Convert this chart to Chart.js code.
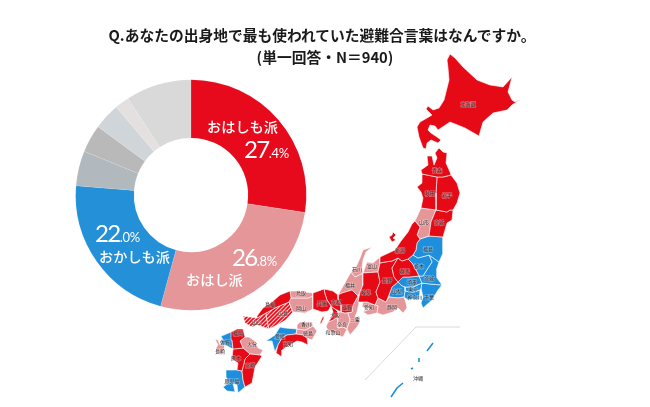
<!DOCTYPE html>
<html lang="ja">
<head>
<meta charset="utf-8">
<title>避難合言葉</title>
<script src="https://cdn.jsdelivr.net/npm/chart.js@4"></script>
<style>
  html, body { margin: 0; padding: 0; background: #fff; }
  #wrap { position: relative; width: 650px; height: 407px; overflow: hidden; }
  canvas { position: absolute; left: 0; top: 0; }
  .title { position: absolute; left: 0; width: 650px; text-align: center; color: #1a1a1a;
    font: 700 14.75px/20px "Noto Sans CJK JP", sans-serif; white-space: nowrap; }
</style>
</head>
<body>
<div id="wrap">
  <canvas id="mapChart" width="650" height="407"></canvas>
  <canvas id="pieChart" width="650" height="407"></canvas>
  <div class="title" style="top:25px;left:-3px">Q.あなたの出身地で最も使われていた避難合言葉はなんですか。</div>
  <div class="title" style="top:47px">(単一回答・N＝940)</div>
</div>
<script>
// doughnut
const sliceNames = ['おはしも派', 'おはし派', 'おかしも派', 'その他A', 'その他B', 'その他C', 'その他D', 'その他E'];
const sliceValues = [27.4, 26.8, 22.0, 4.9, 3.9, 3.7, 2.0, 9.2];
const sliceColors = ['#E60A1C', '#E59699', '#2390D8', '#B1B9BF', '#B9B9B9', '#CFD5D9', '#E4E0E0', '#D9D9D9'];

// map outlines, in picture pixels
const hokkaido = [[450,54],[447,60],[448,68],[449,80],[446,92],[444,100],[439,108],[433,110],[428,106],[426,109],[432,115],[427,118],[420,122],[417,127],[419,137],[423,148],[426,149],[427,143],[431,140],[438,143],[441,140],[437,137],[431,133],[428,130],[430,125],[435,126],[438,130],[450,122],[465,128],[479,136],[483,122],[493,113],[507,110],[512,105],[521,99],[515,102],[512,100],[508,92],[512,77],[503,87],[490,85],[477,80],[463,67],[455,58],[450,54]];
const aomori = [[427,156],[432,156],[434,165],[437,158],[435,153],[439,148],[443,152],[447,153],[446,163],[450,172],[451,175],[443,177],[437,177],[422,174],[421,170],[428,165],[427,156]];
const akita = [[422,174],[437,177],[436,193],[436,210],[421,208],[423,198],[421,192],[417,187],[422,183],[422,174]];
const iwate = [[437,177],[443,177],[451,175],[457,183],[460,193],[457,203],[453,210],[450,210],[447,212],[436,210],[436,193],[437,177]];
const yamagata = [[421,208],[436,210],[431,222],[429,236],[420,239],[417,235],[420,227],[415,221],[421,208]];
const miyagi = [[436,210],[447,212],[450,210],[453,210],[452,220],[447,223],[443,237],[429,236],[431,222],[436,210]];
const fukushima = [[420,239],[429,236],[443,237],[443,253],[439,262],[429,255],[418,258],[413,255],[416,250],[417,243],[420,239]];
const niigata = [[380,257],[395,250],[401,241],[408,232],[412,224],[415,221],[420,227],[417,235],[420,239],[417,243],[416,250],[413,255],[408,259],[402,261],[398,258],[392,261],[385,262],[380,263],[380,257]];
const sado = [[393,232],[396,235],[393,238],[396,240],[392,242],[389,237],[392,235],[393,232]];
const tochigi = [[413,255],[418,258],[429,255],[432,262],[428,268],[423,276],[419,276],[417,272],[412,263],[408,259],[413,255]];
const ibaraki = [[429,255],[439,262],[437,268],[437,278],[442,285],[430,284],[422,283],[419,276],[423,276],[428,268],[432,262],[429,255]];
const gunma = [[392,268],[398,258],[402,261],[408,259],[412,263],[417,272],[419,276],[409,277],[403,277],[398,282],[394,277],[392,268]];
const nagano = [[380,263],[385,262],[392,261],[398,258],[392,268],[394,277],[398,282],[392,287],[389,295],[386,302],[378,298],[376,292],[380,282],[378,272],[380,263]];
const gifu = [[363,273],[378,272],[380,282],[376,292],[378,298],[375,305],[367,302],[358,302],[360,292],[363,285],[363,273]];
const toyama = [[367,262],[373,263],[380,257],[380,263],[378,272],[363,273],[367,262]];
const ishikawa = [[372,247],[363,250],[360,258],[356,267],[351,272],[355,277],[363,273],[362,268],[363,260],[366,252],[372,247]];
const fukui = [[351,272],[355,277],[363,273],[363,285],[360,292],[358,296],[352,290],[342,293],[338,295],[342,288],[351,272]];
const hyogo = [[313,293],[324,289],[325,294],[327,300],[331,306],[328,311],[322,312],[313,309],[313,296],[313,293]];
const kyoto = [[324,289],[333,291],[338,295],[338,299],[341,305],[341,312],[335,309],[331,306],[327,300],[325,294],[324,289]];
const osaka = [[331,306],[335,309],[338,312],[338,317],[333,320],[328,322],[332,317],[333,312],[331,306]];
const shiga = [[338,295],[342,293],[352,290],[358,296],[353,305],[352,312],[345,313],[341,312],[341,305],[338,299],[338,295]];
const biwa = [[352,296],[347,298],[343,306],[347,304],[350,300],[352,296]];
const mie = [[358,296],[359,303],[357,312],[355,317],[360,322],[357,327],[350,335],[347,329],[350,320],[348,313],[352,312],[353,305],[358,296]];
const aichi = [[363,302],[367,302],[375,305],[378,306],[377,313],[368,315],[363,312],[369,309],[362,307],[363,302]];
const shizuoka = [[378,306],[375,305],[378,298],[386,302],[389,297],[398,298],[404,297],[406,303],[407,308],[403,313],[398,308],[393,312],[383,315],[377,313],[378,306]];
const yamanashi = [[392,287],[398,282],[402,286],[405,287],[405,291],[404,297],[398,298],[389,297],[389,295],[392,287]];
const saitama = [[398,282],[403,277],[409,277],[419,276],[422,283],[413,287],[405,287],[402,286],[398,282]];
const tokyo = [[405,287],[413,287],[422,283],[421,288],[420,290],[413,292],[405,291],[405,287]];
const kanagawa = [[405,291],[413,292],[420,290],[419,300],[413,299],[408,300],[404,297],[405,291]];
const chiba = [[422,283],[430,284],[442,285],[438,290],[432,300],[423,308],[421,303],[423,297],[421,288],[422,283]];
const nara = [[338,312],[341,312],[345,313],[348,313],[350,320],[347,329],[343,327],[338,328],[338,317],[338,312]];
const wakayama = [[328,322],[333,320],[338,317],[338,328],[343,327],[347,329],[343,337],[337,335],[328,330],[326,327],[328,322]];
const awaji = [[320,323],[323,316],[324,318],[321,324],[320,323]];
const tottori = [[290,291],[297,291],[313,293],[313,296],[308,298],[295,298],[291,298],[290,291]];
const okayama = [[291,298],[295,298],[308,298],[313,296],[313,309],[305,313],[293,312],[289,302],[291,298]];
const shimane = [[290,291],[291,298],[289,302],[277,307],[266,313],[257,318],[257,316],[263,308],[272,302],[280,295],[290,291]];
const hiroshima = [[277,307],[289,302],[293,312],[286,320],[277,325],[269,329],[267,320],[266,313],[277,307]];
const yamaguchi = [[243,316],[257,318],[266,313],[267,320],[269,329],[263,327],[257,325],[252,327],[245,323],[243,316]];
const kagawa = [[297,325],[300,322],[312,322],[313,326],[305,330],[297,329],[297,325]];
const tokushima = [[297,329],[305,330],[313,326],[317,331],[312,340],[307,338],[303,335],[296,334],[297,329]];
const ehime = [[280,327],[285,328],[297,329],[296,334],[287,335],[282,338],[278,345],[275,352],[273,345],[272,341],[266,341],[275,335],[278,330],[280,327]];
const kochi = [[296,334],[303,335],[307,338],[308,345],[302,342],[297,341],[288,346],[282,350],[282,357],[276,353],[278,345],[282,338],[287,335],[296,334]];
const fukuoka = [[231,332],[237,329],[243,329],[245,337],[240,341],[243,348],[233,349],[232,340],[231,332]];
const saga = [[221,336],[224,335],[231,332],[232,340],[233,349],[225,345],[220,345],[223,340],[221,336]];
const nagasaki = [[215,339],[218,340],[220,345],[225,345],[222,355],[217,353],[216,348],[218,345],[215,339]];
const oita = [[240,341],[245,337],[249,337],[255,341],[258,348],[263,350],[260,355],[250,354],[243,348],[240,341]];
const kumamoto = [[233,349],[243,348],[250,354],[245,359],[242,371],[237,370],[238,363],[232,359],[233,349]];
const miyazaki = [[250,354],[260,355],[262,356],[255,367],[252,383],[245,387],[243,380],[242,371],[245,359],[250,354]];
const kagoshima = [[226,370],[237,370],[242,371],[243,380],[245,387],[238,393],[237,385],[233,383],[235,392],[227,391],[223,387],[229,383],[226,377],[226,370]];
const okinawa1 = [[433,343],[427,351]];
const okinawa2 = [[419,358],[419,362]];
const okinawa3 = [[413,368],[411,369]];
const okinawa4 = [[403,383],[397,388],[391,397]];
const okinawaFrame = [[365,380],[416,327],[460,327]];

const redAreas = [hokkaido, aomori, akita, iwate, miyagi, niigata, sado, gunma, nagano, gifu, hyogo, kyoto, osaka, shiga, awaji, shimane, kochi, fukuoka, kumamoto, miyazaki];
const pinkAreas = [yamagata, toyama, ishikawa, fukui, mie, aichi, shizuoka, nara, wakayama, tottori, okayama, kagawa, tokushima, oita, nagasaki];
const blueAreas = [fukushima, tochigi, ibaraki, yamanashi, saitama, tokyo, kanagawa, chiba, ehime, saga, kagoshima];
const hatchedAreas = [hiroshima, yamaguchi];
const okinawaIslands = [okinawa1, okinawa2, okinawa3, okinawa4];

const prefNames = ['北海道','青森','秋田','岩手','山形','宮城','福島','新潟','栃木','群馬','茨城','長野','山梨','埼玉','東京','神奈川','千葉','静岡','富山','石川','福井','岐阜','愛知','滋賀','三重','京都','大阪','兵庫','奈良','和歌山','鳥取','岡山','島根','広島','山口','香川','徳島','愛媛','高知','福岡','佐賀','長崎','大分','熊本','宮崎','鹿児島','沖縄'];
const prefX = [468,437,430,447,424,439,428,400,419,405,429,387,397,412,413,415,429,392,372,357,350,366,369,347,355,336,335,322,342,333,301,301,270,283,257,306,308,280,288,238,225,220,252,236,250,232,418];
const prefY = [104,170,193,195,222,222,249,250,266,271,278,280,291,282,289,297,297,307,266,269,285,292,307,307,319,302,315,303,324,332,293,308,304,313,322,324,333,336,344,333,342,351,344,358,365,381,378];

const RED = '#E60A17';
const PINK = '#E59699';
const BLUE = '#1E8FDC';

function hatchPattern() {
  const c = document.createElement('canvas');
  c.width = 4;
  c.height = 4;
  const g = c.getContext('2d');
  g.fillStyle = '#FBD5D6';
  g.fillRect(0, 0, 4, 4);
  g.strokeStyle = RED;
  g.lineWidth = 1.7;
  g.beginPath();
  g.moveTo(-1, 5); g.lineTo(5, -1);
  g.moveTo(-1, 1); g.lineTo(1, -1);
  g.moveTo(3, 5); g.lineTo(5, 3);
  g.stroke();
  return g.createPattern(c, 'repeat');
}

function area(points, color) {
  return {
    data: points,
    showLine: true,
    fill: 'shape',
    backgroundColor: color,
    borderColor: '#fff',
    borderWidth: 0.6,
    pointRadius: 0,
    tension: 0
  };
}

function stroke(points, color, width) {
  return { data: points, showLine: true, fill: false, borderColor: color, borderWidth: width, pointRadius: 0, tension: 0 };
}

const hatch = hatchPattern();
const mapDatasets = [
  ...redAreas.map(a => area(a, RED)),
  ...pinkAreas.map(a => area(a, PINK)),
  ...blueAreas.map(a => area(a, BLUE)),
  ...hatchedAreas.map(a => area(a, hatch)),
  area(biwa, '#fff'),
  stroke(okinawaFrame, '#cfcfcf', 0.8),
  ...okinawaIslands.map(a => stroke(a, BLUE, 1.6))
];

const prefLabels = {
  id: 'prefLabels',
  afterDatasetsDraw(chart) {
    const { ctx, scales } = chart;
    ctx.save();
    ctx.font = '5px "Noto Sans CJK JP"';
    ctx.textAlign = 'center';
    ctx.textBaseline = 'middle';
    prefNames.forEach((name, i) => {
      const x = scales.x.getPixelForValue(prefX[i]);
      const y = scales.y.getPixelForValue(prefY[i]);
      ctx.lineWidth = 1.2;
      ctx.strokeStyle = 'rgba(255,255,255,0.35)';
      ctx.strokeText(name, x, y);
      ctx.fillStyle = '#333';
      ctx.fillText(name, x, y);
    });
    ctx.restore();
  }
};

new Chart(document.getElementById('mapChart'), {
  type: 'scatter',
  data: { datasets: mapDatasets },
  plugins: [prefLabels],
  options: {
    responsive: false,
    animation: false,
    layout: { padding: 0 },
    plugins: { legend: { display: false }, tooltip: { enabled: false } },
    scales: {
      x: { type: 'linear', min: 0, max: 650, display: false },
      y: { type: 'linear', min: 0, max: 407, reverse: true, display: false }
    }
  }
});

// big number + small decimals
function drawPct(ctx, big, small, x, y) {
  ctx.font = '400 24px "Lato"';
  ctx.letterSpacing = '-1.6px';
  ctx.fillText(big, x, y);
  const w = ctx.measureText(big).width;
  ctx.font = '400 13px "Lato"';
  ctx.letterSpacing = '-0.2px';
  ctx.fillText(small, x + w, y);
  ctx.letterSpacing = '0px';
}

const sliceLabels = {
  id: 'sliceLabels',
  afterDatasetsDraw(chart) {
    const { ctx } = chart;
    ctx.save();
    ctx.fillStyle = '#fff';
    ctx.textBaseline = 'alphabetic';
    ctx.textAlign = 'left';
    ctx.font = '500 14.2px "Noto Sans CJK JP"';
    ctx.fillText(sliceNames[0], 207, 132);
    ctx.fillText(sliceNames[1], 186, 285);
    ctx.fillText(sliceNames[2], 99, 262);
    const pct = sliceValues.map(v => v.toFixed(1).split('.'));
    drawPct(ctx, pct[0][0], '.' + pct[0][1] + '%', 244, 158);
    drawPct(ctx, pct[1][0], '.' + pct[1][1] + '%', 232, 266);
    drawPct(ctx, pct[2][0], '.' + pct[2][1] + '%', 95, 242);
    ctx.restore();
  }
};

new Chart(document.getElementById('pieChart'), {
  type: 'doughnut',
  data: {
    labels: sliceNames,
    datasets: [{
      data: sliceValues,
      backgroundColor: sliceColors,
      borderColor: 'rgba(255,255,255,0.35)',
      borderWidth: 0.3,
      hoverOffset: 0
    }]
  },
  plugins: [sliceLabels],
  options: {
    responsive: false,
    animation: false,
    cutout: '49.5%',
    layout: { padding: { left: 75.5, top: 79.5, right: 343.5, bottom: 96.5 } },
    plugins: { legend: { display: false }, tooltip: { enabled: false } }
  }
});
</script>
</body>
</html>
